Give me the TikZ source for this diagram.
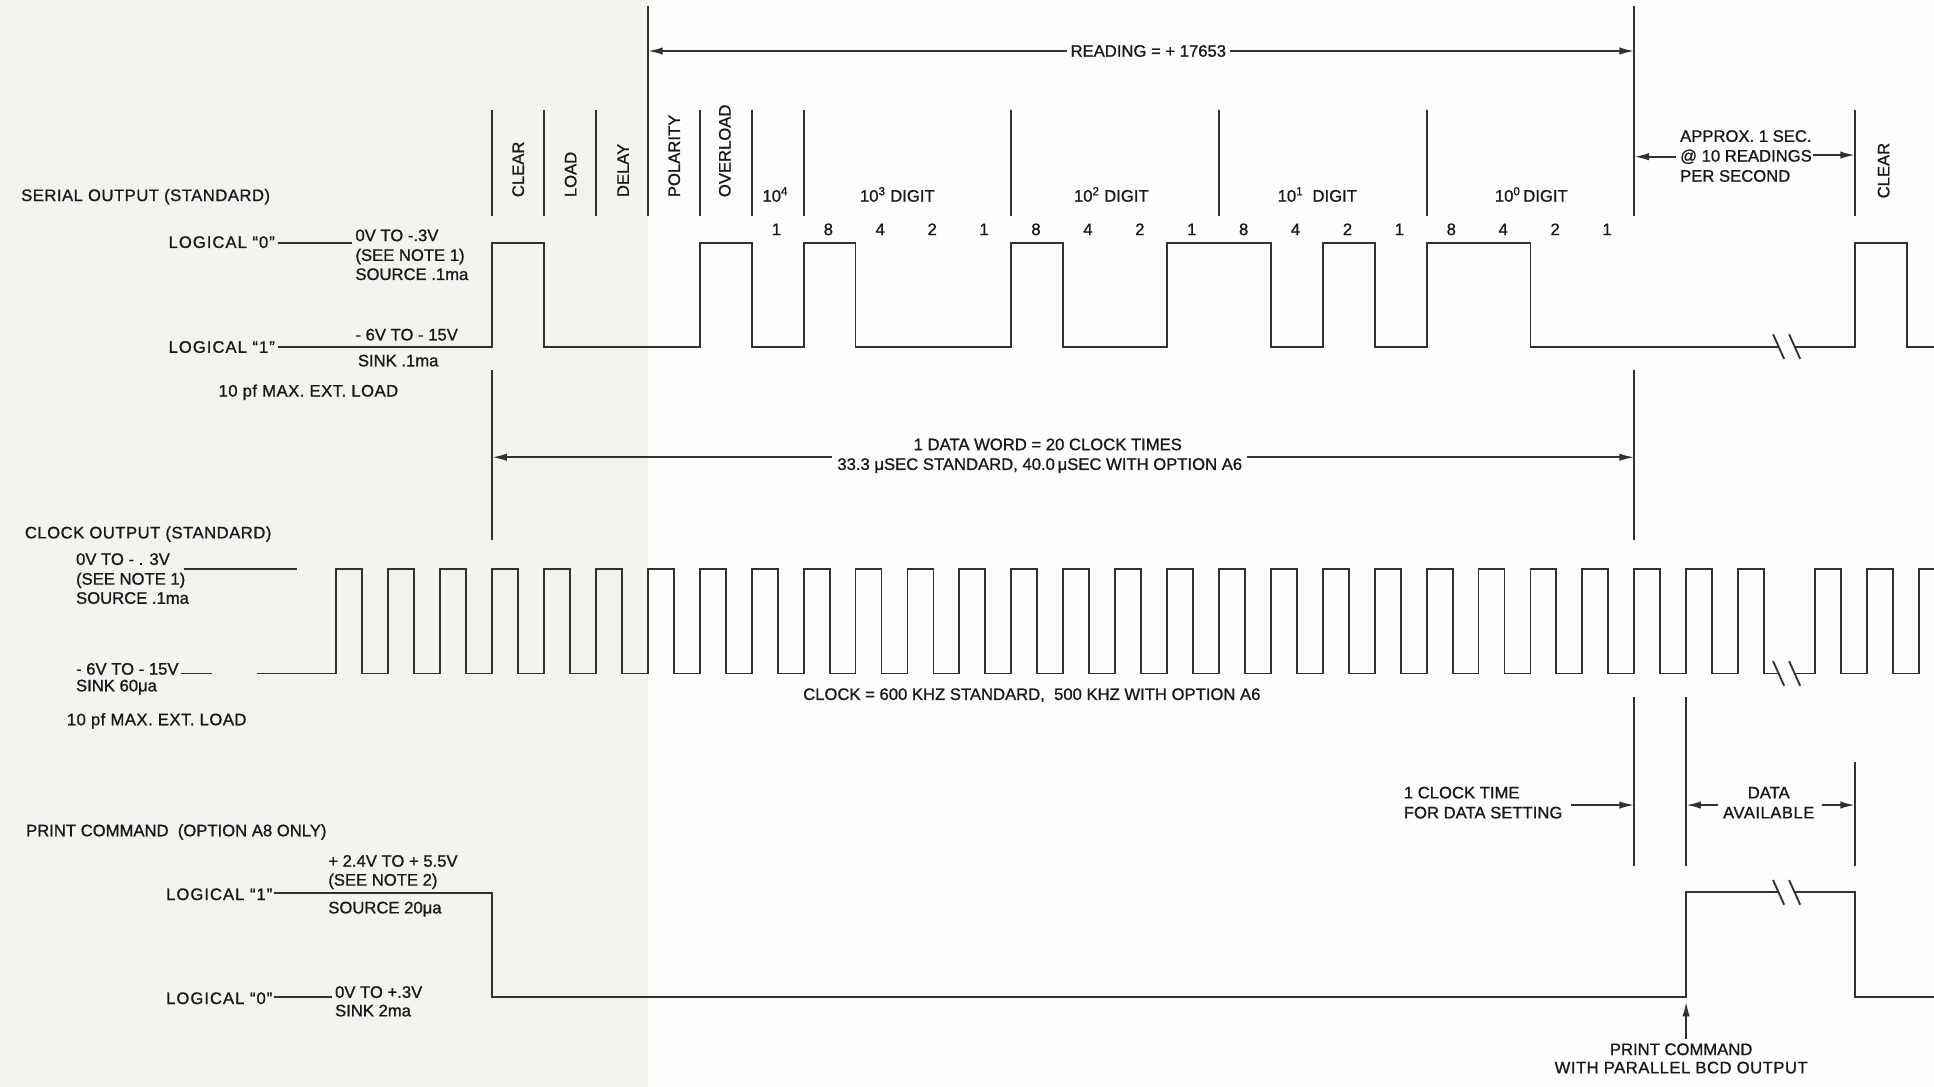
\documentclass[tikz,border=0pt]{standalone}
\usepackage{fontspec}
\setmainfont{Liberation Sans}[FakeBold=1]
\newfontfamily\widefont{Liberation Sans}[FakeBold=1,LetterSpace=6,Ligatures=TeX]
\newfontfamily\semiwide{Liberation Sans}[FakeBold=1,LetterSpace=3,Ligatures=TeX]
\usetikzlibrary{arrows.meta}
\definecolor{ink}{RGB}{50,50,50}
\definecolor{txt}{RGB}{25,25,25}
\definecolor{paperL}{RGB}{242,244,240}
\definecolor{paperR}{RGB}{253,253,252}
\begin{document}
\begin{tikzpicture}[x=1pt,y=-1pt,
  font=\fontsize{13.5}{16}\selectfont,
  ln/.style={draw=ink,line width=1.5pt},
  lbl/.style={inner sep=0pt,anchor=base west,text=txt},
  >={Latex[length=12pt,width=6pt]}]
% paper
\fill[paperR] (0,0) rectangle (1568,881);
\fill[paperL] (0,0) rectangle (525,881);
\useasboundingbox (0,0) rectangle (1568,881);

% ---------- reference coordinates ----------
\coordinate (vP) at (525.27,5);
\coordinate (vE) at (1324.98,5);
\coordinate (v0) at (399,300);

% ---------- top: bit field separators ----------
\foreach \k in {0,1,2,4,5,6,10,14,18}
  \draw[ln] ({399+42.09*\k},89) -- ++(0,86);
\draw[ln] (vP) -- (525.27,175);
\draw[ln] (vE) -- (1324.98,175);
\draw[ln] (1504,89) -- (1504,175);

% reading arrow
\node[lbl,anchor=base] (rd) at (931,46) {READING = + 17653};
\draw[ln,->] ([xshift=-3pt]rd.west) -- (rd.west -| vP);
\draw[ln,->] ([xshift=3pt]rd.east) -- (rd.east -| vE);

% rotated field names
\node[lbl,rotate=90] (fClr) at (424.8,160) {CLEAR};
\node[lbl,rotate=90] (fLoad) at (467.3,160) {LOAD};
\node[lbl,rotate=90] (fDel) at (509.8,160) {DELAY};
\node[lbl,rotate=90] (fPol) at (551.3,160) {POLARITY};
\node[lbl,rotate=90] (fOvl) at (592.3,160) {OVERLOAD};
\node[lbl,rotate=90] (fClr2) at (1531.8,161) {CLEAR};

% digit headings
\node[lbl] (d4) at (618,163.5) {10\textsuperscript{4}};
\node[lbl,anchor=base] (d3) at (727.5,163.5) {10\textsuperscript{3} DIGIT};
\node[lbl,anchor=base] (d2) at (901,163.5) {10\textsuperscript{2} DIGIT};
\node[lbl,anchor=base] (d1) at (1068,163.5) {10\textsuperscript{1}\ \ DIGIT};
\node[lbl,anchor=base] (d0) at (1241.5,163.5) {10\textsuperscript{0}\,DIGIT};

% bit weights
\foreach \k/\d in {5/1,6/8,7/4,8/2,9/1,10/8,11/4,12/2,13/1,14/8,15/4,16/2,17/1,18/8,19/4,20/2,21/1}
  \node[lbl,anchor=base] (bw\k) at ({399+42.09*(\k+0.5)-1},190.6) {\d};

% approx 1 sec
\node[lbl] (ap1) at (1362,115) {APPROX. 1 SEC.};
\node[lbl] (ap2) at (1362,131) {@ 10 READINGS};
\node[lbl] (ap3) at (1362,147.3) {PER SECOND};
\draw[ln,->] ([xshift=-3pt]ap2.west) -- (ap2.west -| vE);
\draw[ln,->] (1469.5,125.7) -- (1504,125.7);

% ---------- serial output ----------
\node[lbl] (serT) at (17,163) {\semiwide SERIAL OUTPUT (STANDARD)};
\node[lbl,anchor=base east] (s0) at (223,201) {\widefont LOGICAL “0”};
\draw[ln] (225,197) -- (285,197);
\node[lbl] (s0a) at (288,195.5) {0V TO -.3V};
\node[lbl] (s0b) at (288,211.5) {(SEE NOTE 1)};
\node[lbl] (s0c) at (288,227) {SOURCE .1ma};
\node[lbl,anchor=base east] (s1) at (223,286) {\widefont LOGICAL “1”};
\node[lbl] (s1a) at (288,276) {- 6V TO - 15V};
\node[lbl] (s1b) at (290,297) {SINK .1ma};
\node[lbl] (s1c) at (177,321.5) {\semiwide 10 pf MAX. EXT. LOAD};

\draw[ln] (225,281) -- (399,281) -- (399,197) -- (441.09,197) -- (441.09,281)
  -- (567.36,281) -- (567.36,197) -- (609.45,197) -- (609.45,281)
  -- (651.54,281) -- (651.54,197) -- (693.63,197) -- (693.63,281)
  -- (819.9,281) -- (819.9,197) -- (861.99,197) -- (861.99,281)
  -- (946.17,281) -- (946.17,197) -- (1030.35,197) -- (1030.35,281)
  -- (1072.44,281) -- (1072.44,197) -- (1114.53,197) -- (1114.53,281)
  -- (1156.62,281) -- (1156.62,197) -- (1240.8,197) -- (1240.8,281)
  -- (1442,281);
\draw[ln] (1455,281) -- (1504,281) -- (1504,197) -- (1546,197) -- (1546,281) -- (1568,281);
\draw[ln] (1437.5,271) -- (1446.5,291);
\draw[ln] (1450.5,271) -- (1459.5,291);

% ---------- data word ----------
\draw[ln] (v0) -- (399,438);
\draw[ln] (1324.98,300) -- (1324.98,438);
\node[lbl,anchor=base] (dw1) at (849.5,365) {1 DATA WORD = 20 CLOCK TIMES};
\node[lbl,anchor=base] (dw2) at (843,381) {33.3 μSEC STANDARD, 40.0\,μSEC WITH OPTION A6};
\draw[ln,->] (674.5,370.7) -- (399,370.7);
\draw[ln,->] (1011,370.7) -- (1324.98,370.7);

% ---------- clock output ----------
\node[lbl] (ckT) at (20,436.5) {\semiwide CLOCK OUTPUT (STANDARD)};
\node[lbl] (ck0a) at (61.5,458) {0V TO - . 3V};
\node[lbl] (ck0b) at (61.5,474) {(SEE NOTE 1)};
\node[lbl] (ck0c) at (61.5,489.5) {SOURCE .1ma};
\draw[ln] (149,461) -- (241,461);
\node[lbl] (ck1a) at (61.5,547) {- 6V TO - 15V};
\draw[ln] (147,546) -- (172,546);
\node[lbl] (ck1b) at (61.5,560.5) {SINK 60μa};
\node[lbl] (ck1c) at (54,588) {\semiwide 10 pf MAX. EXT. LOAD};

\draw[ln] (208,546) \foreach \k in {0,...,27}{
   -- ({272.73+42.09*\k},546) -- ++(0,-85) -- ++(21.05,0) -- ++(0,85)} -- (1442,546);
\draw[ln] (1455,546) -- (1471.6,546) -- ++(0,-85) -- ++(21,0) -- ++(0,85)
  -- (1513.7,546) -- ++(0,-85) -- ++(21,0) -- ++(0,85)
  -- (1555.8,546) -- ++(0,-85) -- (1568,461);
\draw[ln] (1437.5,536) -- (1446.5,556);
\draw[ln] (1450.5,536) -- (1459.5,556);

\node[lbl] (ckF) at (651,567.5) {CLOCK = 600 KHZ STANDARD,\ \ 500 KHZ WITH OPTION A6};

% ---------- data setting markers ----------
\draw[ln] (1324.98,565) -- (1324.98,702);
\draw[ln] (1367,565) -- (1367,702);
\draw[ln] (1504,617.5) -- (1504,702);
\node[lbl] (cs1) at (1138,647.3) {1 CLOCK TIME};
\node[lbl] (cs2) at (1138,663.5) {FOR DATA SETTING};
\draw[ln,->] (1274,652.7) -- (1324.98,652.7);
\node[lbl,anchor=base] (da1) at (1434,647.3) {DATA};
\node[lbl,anchor=base] (da2) at (1434,663.5) {\semiwide AVAILABLE};
\draw[ln,->] (1393,652.7) -- (1367,652.7);
\draw[ln,->] (1477,652.7) -- (1504,652.7);

% ---------- print command ----------
\node[lbl] (prT) at (21,678) {PRINT COMMAND\ \ (OPTION A8 ONLY)};
\node[lbl] (p1a) at (266,702.7) {+ 2.4V TO + 5.5V};
\node[lbl] (p1b) at (266,718) {(SEE NOTE 2)};
\node[lbl,anchor=base east] (p1) at (221,729.7) {\widefont LOGICAL “1”};
\node[lbl] (p1c) at (266,740.5) {SOURCE 20μa};
\node[lbl,anchor=base east] (p0) at (221,814) {\widefont LOGICAL “0”};
\draw[ln] (222,808.5) -- (269,808.5);
\node[lbl] (p0a) at (271.5,809) {0V TO +.3V};
\node[lbl] (p0b) at (271.5,824) {SINK 2ma};

\draw[ln] (222,724) -- (399,724) -- (399,808.5) -- (1367,808.5) -- (1367,723.5) -- (1442,723.5);
\draw[ln] (1455,723.5) -- (1504,723.5) -- (1504,808.5) -- (1568,808.5);
\draw[ln] (1437.5,713.5) -- (1446.5,733.5);
\draw[ln] (1450.5,713.5) -- (1459.5,733.5);

\node[lbl,anchor=base] (pc1) at (1363,855.4) {PRINT COMMAND};
\node[lbl,anchor=base] (pc2) at (1363,870.2) {\semiwide WITH PARALLEL BCD OUTPUT};
\coordinate (pcTail) at (1367,842);
\draw[ln,->] (pcTail) -- (1367,812);
\end{tikzpicture}
\end{document}
